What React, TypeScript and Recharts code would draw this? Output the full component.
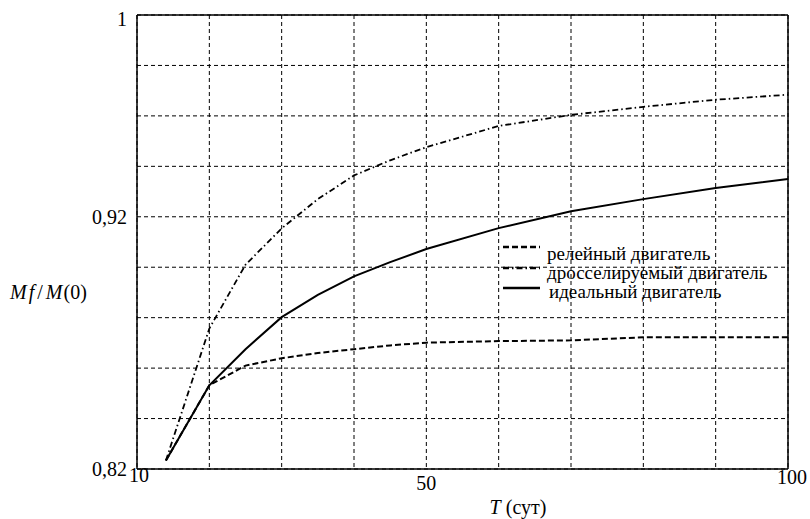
import React from 'react';
import { LineChart, Line, XAxis, YAxis, CartesianGrid, ReferenceLine, Label } from 'recharts';

const T = [14, 20, 25, 30, 35, 40, 45, 50, 60, 70, 80, 90, 100];
const relay = [0.8234, 0.8532, 0.861, 0.8639, 0.866, 0.8675, 0.869, 0.8701, 0.8707, 0.871, 0.8722, 0.8722, 0.8722];
const throttled = [0.8234, 0.8757, 0.901, 0.9154, 0.927, 0.9364, 0.9424, 0.9476, 0.956, 0.9604, 0.9636, 0.9664, 0.9684];
const ideal = [0.8234, 0.8532, 0.8675, 0.8802, 0.889, 0.8964, 0.902, 0.9072, 0.9155, 0.9222, 0.927, 0.9314, 0.935];

const xTicks = [10, 20, 30, 40, 50, 60, 70, 80, 90, 100];
const yTicks = [0.82, 0.84, 0.86, 0.88, 0.9, 0.92, 0.94, 0.96, 0.98, 1];
const xLabels: Record<number, string> = { 10: '10', 50: '50', 100: '100' };
const yLabels: Record<string, string> = { '0.82': '0,82', '0.92': '0,92', '1': '1' };

const seriesNames = ['релейный двигатель', 'дросселируемый двигатель', 'идеальный двигатель'];
const xTitle = 'T';
const xTitleUnit = ' (сут)';

const data = T.map((t, i) => ({ T: t, relay: relay[i], throttled: throttled[i], ideal: ideal[i] }));

const FONT = "'Times New Roman', Times, 'Liberation Serif', serif";

const dashes = ['6 3', '6 3 1.5 3', undefined];
const widths = [2, 1.8, 2];
const keys = ['relay', 'throttled', 'ideal'];

const XTick = (props: any) => {
  const { x, y, payload } = props;
  const label = xLabels[payload.value];
  if (!label) return null;
  const off: Record<string, [number, number]> = { '10': [2, -2], '50': [0, 6], '100': [4, 0] };
  const [dx, dy] = off[label];
  return (
    <text x={x + dx} y={y + dy} textAnchor="middle" dominantBaseline="central" style={{ fontFamily: FONT, fontSize: 20 }} fill="#000">
      {label}
    </text>
  );
};

const YTick = (props: any) => {
  const { x, y, payload } = props;
  const key = String(Math.round(payload.value * 100) / 100);
  const label = yLabels[key];
  if (!label) return null;
  const dy = label === '1' ? 4 : label === '0,92' ? 0.5 : 0;
  return (
    <text x={x - 2} y={y + dy} textAnchor="end" dominantBaseline="central" style={{ fontFamily: FONT, fontSize: 20 }} fill="#000">
      {label}
    </text>
  );
};

const LegendOverlay = () => {
  const rows = [
    { ly: 9, ty: 15 },
    { ly: 30, ty: 34 },
    { ly: 50, ty: 53 },
  ];
  return (
    <svg width={300} height={64} style={{ position: 'absolute', left: 500, top: 238, overflow: 'visible' }}>
      {seriesNames.map((n, i) => (
        <g key={n}>
          <line x1={3} x2={40} y1={rows[i].ly} y2={rows[i].ly} stroke="#000" strokeWidth={widths[i] + 0.5} strokeDasharray={dashes[i]} />
          <text x={i === 2 ? 49 : 47} y={rows[i].ty} dominantBaseline="central" style={{ fontFamily: FONT, fontSize: 19 }} fill="#000">
            {n}
          </text>
        </g>
      ))}
    </svg>
  );
};

export default function App() {
  return (
    <div style={{ position: 'absolute', left: 0, top: 0, width: 810, height: 519, fontFamily: FONT }}>
      <LineChart width={810} height={519} data={data} margin={{ top: 15, right: 22, bottom: 20, left: 97 }}>
        <CartesianGrid stroke="#000" strokeDasharray="4 3" strokeWidth={1} />
        <XAxis
          type="number"
          dataKey="T"
          domain={[10, 100]}
          ticks={xTicks}
          interval={0}
          tickLine={false}
          axisLine={{ stroke: '#000', strokeWidth: 1.5 }}
          tick={<XTick />}
          height={30}
        >
          <Label
            content={() => (
              <text x={518} y={507} textAnchor="middle" dominantBaseline="central" style={{ fontFamily: FONT, fontSize: 20 }} fill="#000">
                <tspan fontStyle="italic">{xTitle}</tspan>
                <tspan>{xTitleUnit}</tspan>
              </text>
            )}
          />
        </XAxis>
        <YAxis
          type="number"
          domain={[0.82, 1]}
          ticks={yTicks}
          interval={0}
          tickLine={false}
          axisLine={{ stroke: '#000', strokeWidth: 1.5 }}
          tick={<YTick />}
          width={40}
          allowDataOverflow
        >
          <Label
            content={() => (
              <text x={10} y={292} textAnchor="start" dominantBaseline="central" style={{ fontFamily: FONT, fontSize: 20 }} fill="#000">
                <tspan fontStyle="italic">M</tspan>
                <tspan fontStyle="italic" dx={2}>f</tspan>
                <tspan dx={3}>/</tspan>
                <tspan fontStyle="italic" dx={3}>M</tspan>
                <tspan dx={1}>(0)</tspan>
              </text>
            )}
          />
        </YAxis>
        <ReferenceLine y={1} stroke="#000" strokeWidth={1.5} />
        <ReferenceLine x={100} stroke="#000" strokeWidth={1.5} />
        {keys.map((k, i) => (
          <Line
            key={k}
            type="linear"
            dataKey={k}
            name={seriesNames[i]}
            stroke="#000"
            strokeWidth={widths[i]}
            strokeDasharray={dashes[i]}
            dot={false}
            activeDot={false}
            isAnimationActive={false}
          />
        ))}
      </LineChart>
      <LegendOverlay />
    </div>
  );
}
